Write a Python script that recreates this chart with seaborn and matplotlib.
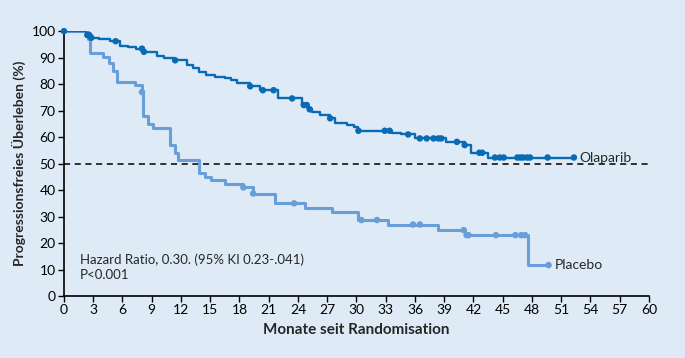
import matplotlib
matplotlib.use("Agg")
import matplotlib.pyplot as plt
import seaborn as sns
import pandas as pd
import numpy as np

# Kaplan-Meier steps (months, % progression-free)
ola_t = [0, 2.3, 2.8, 3.6, 4.7, 5.7, 6.6, 7.4, 8.1, 9.5, 10.3, 11.4, 12.6, 13.2, 13.8,
         14.6, 15.5, 16.5, 17.1, 17.7, 19.1, 20.1, 21.9, 24.4, 25.0, 25.4, 26.3, 27.3,
         27.8, 29.0, 29.7, 30.2, 33.6, 34.6, 36.0, 39.2, 41.1, 41.7, 43.5]
ola_s = [100, 98.5, 97.5, 97.0, 96.2, 94.4, 94.0, 93.4, 92.2, 90.7, 90.0, 89.0, 87.4, 86.2, 84.6,
         83.4, 82.8, 82.2, 81.4, 80.6, 79.2, 77.7, 74.6, 72.1, 70.5, 69.5, 68.3, 67.1,
         65.4, 64.5, 63.9, 62.4, 61.6, 61.0, 59.5, 58.2, 57.0, 54.1, 52.3]
ola_end = 52.3
ola_cens = [0, 2.4, 2.6, 2.8, 5.3, 8.0, 8.2, 11.4, 19.1, 20.4, 21.5, 23.4, 24.6, 24.9, 25.2,
            27.3, 30.2, 32.9, 33.4, 35.3, 36.5, 37.2, 37.9, 38.4, 38.7, 40.3, 41.1, 42.6,
            42.9, 44.2, 44.7, 45.1, 46.5, 46.8, 47.1, 47.5, 47.8, 49.6, 52.3]

pla_t = [0, 2.5, 2.7, 4.0, 4.6, 5.0, 5.4, 7.3, 8.0, 8.1, 8.6, 9.1, 10.9, 11.4, 11.7,
         13.8, 14.5, 15.1, 16.5, 18.4, 19.4, 21.6, 24.7, 27.5, 30.2, 33.2, 38.4, 41.1, 47.6]
pla_s = [100, 97.0, 91.6, 90.3, 88.0, 85.0, 80.9, 79.6, 77.0, 68.0, 65.0, 63.5, 57.0, 54.0, 51.3,
         46.4, 45.0, 43.8, 42.3, 41.0, 38.7, 35.0, 33.1, 31.8, 28.7, 27.0, 24.9, 23.0, 11.7]
pla_end = 49.7
pla_cens = [8.0, 18.4, 19.4, 23.6, 30.5, 32.1, 35.8, 36.5, 41.0, 41.3, 41.5, 44.3, 46.3,
            46.9, 47.3, 49.7]

x_ticks = list(range(0, 61, 3))
y_ticks = list(range(0, 101, 10))

bg = "#deebf7"
c_ola = "#0a6bb5"
c_pla = "#6a9ed9"

sns.set_style("ticks")
plt.rcParams["font.family"] = ["Lato", "DejaVu Sans"]

fig = plt.figure(figsize=(6.85, 3.58), dpi=100, facecolor=bg)
ax = fig.add_axes([0.0934, 0.173, 0.854, 0.740])
ax.set_facecolor(bg)


def km_frame(t, s, end):
    return pd.DataFrame({"t": t + [end], "s": s + [s[-1]]})


def at(t, s, x):
    idx = np.searchsorted(t, x, side="right") - 1
    return np.array(s)[idx]


ax.axhline(50, color="black", lw=1.1, ls=(0, (4, 3)), zorder=1)

for t, s, end, cens, col, lw in [
    (pla_t, pla_s, pla_end, pla_cens, c_pla, 2.2),
    (ola_t, ola_s, ola_end, ola_cens, c_ola, 1.7),
]:
    df = km_frame(t, s, end)
    sns.lineplot(data=df, x="t", y="s", drawstyle="steps-post", color=col, lw=lw, ax=ax,
                 zorder=3)
    cdf = pd.DataFrame({"t": cens, "s": at(t, s, cens)})
    sns.scatterplot(data=cdf, x="t", y="s", color=col, s=22, edgecolor="none", ax=ax,
                    zorder=4, clip_on=False)

ax.set_xlim(0, 60)
ax.set_ylim(0, 100)
ax.set_xticks(x_ticks)
ax.set_yticks(y_ticks)
ax.tick_params(direction="out", length=4, width=1, labelsize=10, colors="black", pad=2)
for sp in ["top", "right"]:
    ax.spines[sp].set_visible(False)
for sp in ["left", "bottom"]:
    ax.spines[sp].set_linewidth(1.2)
    ax.spines[sp].set_color("black")

ax.set_xlabel("Monate seit Randomisation", fontsize=11, fontweight="bold", labelpad=5)
ax.set_ylabel("Progressionsfreies Überleben (%)", fontsize=10, fontweight="bold",
              labelpad=4)

ax.text(ola_end + 0.6, ola_end, "Olaparib", fontsize=10, va="center", ha="left")
ax.text(pla_end + 0.6, pla_s[-1], "Placebo", fontsize=10, va="center", ha="left")
ax.text(1.6, 13.8, "Hazard Ratio, 0.30. (95% KI 0.23-.041)", fontsize=9.5, va="center")
ax.text(1.6, 8.0, "P<0.001", fontsize=9.5, va="center")

fig.savefig("out.png", dpi=100, facecolor=bg)
